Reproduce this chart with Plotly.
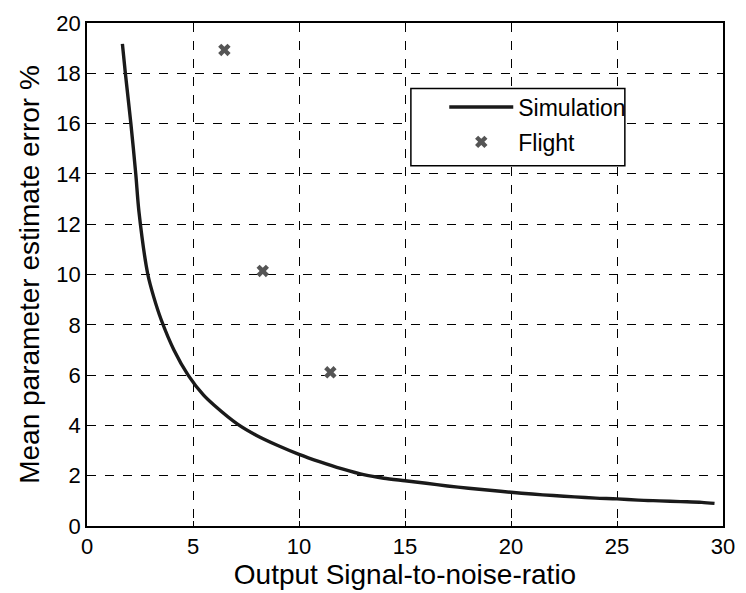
import plotly.graph_objects as go

sim_x = [1.67, 1.81, 2.07, 2.3, 2.45, 2.87, 3.15, 3.5, 4.1, 4.77, 5.5, 6.0, 7.1, 8.0, 9.0, 10.0, 11.0, 12.0, 13.1,
         14.0, 15.0, 16.0, 17.0, 18.0, 19.0, 20.0, 21.0, 22.0, 23.0, 24.0, 25.0, 26.0, 27.0, 28.0, 29.0, 29.6]
sim_y = [19.17, 18.0, 16.0, 14.0, 12.5, 10.0, 9.1, 8.2, 7.0, 6.0, 5.2, 4.8, 4.05, 3.6, 3.2, 2.85, 2.55, 2.28, 2.03,
         1.9, 1.8, 1.7, 1.59, 1.5, 1.42, 1.34, 1.27, 1.21, 1.16, 1.11, 1.08, 1.03, 1.0, 0.97, 0.94, 0.9]
flight_x = [6.48, 8.29, 11.48]
flight_y = [18.93, 10.14, 6.11]

x_ticks = [0, 5, 10, 15, 20, 25, 30]
y_ticks = [0, 2, 4, 6, 8, 10, 12, 14, 16, 18, 20]

FONT = "Liberation Sans, Arial"

fig = go.Figure()
fig.add_trace(go.Scatter(x=sim_x, y=sim_y, mode="lines", name="Simulation", legendgroup="a",
                         line=dict(color="#1a1a1a", width=3.4, shape="spline", smoothing=0.8)))
fig.add_trace(go.Scatter(x=flight_x, y=flight_y, mode="markers", name="Flight", legendgroup="b",
                         marker=dict(symbol="x", size=11, color="#555555",
                                     line=dict(width=0))))

axis_common = dict(showline=True, linecolor="black", linewidth=1.8, mirror="ticks",
                   ticks="inside", ticklen=5, tickcolor="black", tickwidth=1.3,
                   showgrid=True, gridcolor="black", gridwidth=1.2, griddash="dash",
                   zeroline=False, tickfont=dict(size=22, color="black", family=FONT))

fig.update_xaxes(range=[0, 30], tickvals=x_ticks,
                 title=dict(text="Output Signal-to-noise-ratio",
                            font=dict(size=28, color="black", family=FONT), standoff=0),
                 **axis_common)
fig.update_yaxes(range=[0, 20], tickvals=y_ticks,
                 title=dict(text="Mean parameter estimate error %",
                            font=dict(size=28, color="black", family=FONT), standoff=8),
                 **axis_common)

# legend frame
fig.add_shape(type="rect", xref="paper", yref="paper",
              x0=(417 - 87) / 648, x1=(635 - 87) / 648,
              y0=(526 - 163) / 507, y1=(526 - 85) / 507,
              line=dict(color="black", width=1.5), fillcolor="white", layer="above")

fig.update_layout(
    width=746, height=593,
    margin=dict(l=87, r=11, t=19, b=67),
    plot_bgcolor="white", paper_bgcolor="white",
    font=dict(family=FONT, color="black"),
    legend=dict(x=(451 - 87) / 648, y=(526 - 82) / 507, xanchor="left", yanchor="top",
                bgcolor="rgba(0,0,0,0)", borderwidth=0,
                font=dict(size=23, color="black", family=FONT), itemwidth=64,
                traceorder="grouped", tracegroupgap=2),
    showlegend=True,
)

fig.write_html("out.html")
